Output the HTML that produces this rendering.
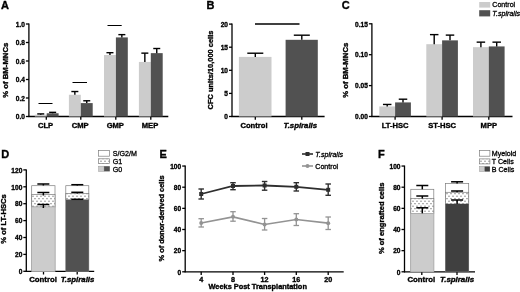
<!DOCTYPE html>
<html><head><meta charset="utf-8"><title>Figure</title>
<style>html,body{margin:0;padding:0;background:#fff}svg{display:block;opacity:.999;will-change:transform}text{font-family:"Liberation Sans",sans-serif}</style>
</head><body>
<svg width="520" height="292" viewBox="0 0 520 292">
<rect width="520" height="292" fill="#fff"/>
<text x="0.90" y="8.70" font-size="11" text-anchor="start" font-weight="bold" font-style="normal" fill="#000000" stroke="#000" stroke-width="0.35">A</text>
<line x1="28.90" y1="23.50" x2="28.90" y2="117.00" stroke="#000000" stroke-width="1.3"/>
<line x1="25.90" y1="116.50" x2="28.90" y2="116.50" stroke="#000000" stroke-width="1.3"/>
<text transform="translate(24.90 119.20) scale(0.88 1)" font-size="7.5" text-anchor="end" font-weight="bold" fill="#000" stroke="#000" stroke-width="0.35">0.0</text>
<line x1="25.90" y1="98.00" x2="28.90" y2="98.00" stroke="#000000" stroke-width="1.3"/>
<text transform="translate(24.90 100.70) scale(0.88 1)" font-size="7.5" text-anchor="end" font-weight="bold" fill="#000" stroke="#000" stroke-width="0.35">0.2</text>
<line x1="25.90" y1="79.50" x2="28.90" y2="79.50" stroke="#000000" stroke-width="1.3"/>
<text transform="translate(24.90 82.20) scale(0.88 1)" font-size="7.5" text-anchor="end" font-weight="bold" fill="#000" stroke="#000" stroke-width="0.35">0.4</text>
<line x1="25.90" y1="61.00" x2="28.90" y2="61.00" stroke="#000000" stroke-width="1.3"/>
<text transform="translate(24.90 63.70) scale(0.88 1)" font-size="7.5" text-anchor="end" font-weight="bold" fill="#000" stroke="#000" stroke-width="0.35">0.6</text>
<line x1="25.90" y1="42.50" x2="28.90" y2="42.50" stroke="#000000" stroke-width="1.3"/>
<text transform="translate(24.90 45.20) scale(0.88 1)" font-size="7.5" text-anchor="end" font-weight="bold" fill="#000" stroke="#000" stroke-width="0.35">0.8</text>
<line x1="25.90" y1="24.00" x2="28.90" y2="24.00" stroke="#000000" stroke-width="1.3"/>
<text transform="translate(24.90 26.70) scale(0.88 1)" font-size="7.5" text-anchor="end" font-weight="bold" fill="#000" stroke="#000" stroke-width="0.35">1.0</text>
<line x1="28.40" y1="116.50" x2="168.30" y2="116.50" stroke="#000000" stroke-width="1.3"/>
<line x1="46.30" y1="116.50" x2="46.30" y2="119.70" stroke="#000000" stroke-width="1.3"/>
<line x1="80.80" y1="116.50" x2="80.80" y2="119.70" stroke="#000000" stroke-width="1.3"/>
<line x1="115.80" y1="116.50" x2="115.80" y2="119.70" stroke="#000000" stroke-width="1.3"/>
<line x1="150.80" y1="116.50" x2="150.80" y2="119.70" stroke="#000000" stroke-width="1.3"/>
<rect x="34.80" y="114.65" width="11.90" height="1.85" fill="#cccccc"/>
<rect x="46.70" y="113.26" width="11.90" height="3.24" fill="#515151"/>
<line x1="40.75" y1="113.91" x2="40.75" y2="114.65" stroke="#000000" stroke-width="1.4"/>
<line x1="37.25" y1="113.91" x2="44.25" y2="113.91" stroke="#000000" stroke-width="1.4"/>
<line x1="52.65" y1="112.34" x2="52.65" y2="113.26" stroke="#000000" stroke-width="1.4"/>
<line x1="49.15" y1="112.34" x2="56.15" y2="112.34" stroke="#000000" stroke-width="1.4"/>
<text x="45.50" y="127.80" font-size="7.6" text-anchor="middle" font-weight="bold" font-style="normal" fill="#000000" stroke="#000" stroke-width="0.35">CLP</text>
<rect x="68.90" y="94.76" width="11.90" height="21.74" fill="#cccccc"/>
<rect x="80.80" y="103.09" width="11.90" height="13.41" fill="#515151"/>
<line x1="74.85" y1="91.53" x2="74.85" y2="94.76" stroke="#000000" stroke-width="1.4"/>
<line x1="71.35" y1="91.53" x2="78.35" y2="91.53" stroke="#000000" stroke-width="1.4"/>
<line x1="86.75" y1="100.78" x2="86.75" y2="103.09" stroke="#000000" stroke-width="1.4"/>
<line x1="83.25" y1="100.78" x2="90.25" y2="100.78" stroke="#000000" stroke-width="1.4"/>
<text x="80.20" y="127.80" font-size="7.6" text-anchor="middle" font-weight="bold" font-style="normal" fill="#000000" stroke="#000" stroke-width="0.35">CMP</text>
<rect x="104.00" y="54.99" width="11.90" height="61.51" fill="#cccccc"/>
<rect x="115.90" y="37.41" width="11.90" height="79.09" fill="#515151"/>
<line x1="109.95" y1="52.68" x2="109.95" y2="54.99" stroke="#000000" stroke-width="1.4"/>
<line x1="106.45" y1="52.68" x2="113.45" y2="52.68" stroke="#000000" stroke-width="1.4"/>
<line x1="121.85" y1="34.64" x2="121.85" y2="37.41" stroke="#000000" stroke-width="1.4"/>
<line x1="118.35" y1="34.64" x2="125.35" y2="34.64" stroke="#000000" stroke-width="1.4"/>
<text x="115.30" y="127.80" font-size="7.6" text-anchor="middle" font-weight="bold" font-style="normal" fill="#000000" stroke="#000" stroke-width="0.35">GMP</text>
<rect x="138.90" y="61.93" width="11.90" height="54.57" fill="#cccccc"/>
<rect x="150.80" y="53.14" width="11.90" height="63.36" fill="#515151"/>
<line x1="144.85" y1="53.14" x2="144.85" y2="61.93" stroke="#000000" stroke-width="1.4"/>
<line x1="141.35" y1="53.14" x2="148.35" y2="53.14" stroke="#000000" stroke-width="1.4"/>
<line x1="156.75" y1="48.51" x2="156.75" y2="53.14" stroke="#000000" stroke-width="1.4"/>
<line x1="153.25" y1="48.51" x2="160.25" y2="48.51" stroke="#000000" stroke-width="1.4"/>
<text x="150.00" y="127.80" font-size="7.6" text-anchor="middle" font-weight="bold" font-style="normal" fill="#000000" stroke="#000" stroke-width="0.35">MEP</text>
<line x1="38.50" y1="103.50" x2="52.50" y2="103.50" stroke="#000000" stroke-width="1"/>
<line x1="72.50" y1="82.50" x2="87.00" y2="82.50" stroke="#000000" stroke-width="1"/>
<line x1="107.50" y1="25.50" x2="121.70" y2="25.50" stroke="#000000" stroke-width="1"/>
<text x="7.70" y="70.20" font-size="7.8" text-anchor="middle" font-weight="bold" fill="#000000" stroke="#000" stroke-width="0.35" textLength="55" lengthAdjust="spacingAndGlyphs" transform="rotate(-90 7.70 70.20)">% of BM-MNCs</text>
<text x="206.40" y="8.70" font-size="11" text-anchor="start" font-weight="bold" font-style="normal" fill="#000000" stroke="#000" stroke-width="0.35">B</text>
<line x1="232.00" y1="23.60" x2="232.00" y2="117.00" stroke="#000000" stroke-width="1.3"/>
<line x1="229.00" y1="116.50" x2="232.00" y2="116.50" stroke="#000000" stroke-width="1.3"/>
<text transform="translate(228.00 119.20) scale(0.88 1)" font-size="7.5" text-anchor="end" font-weight="bold" fill="#000" stroke="#000" stroke-width="0.35">0</text>
<line x1="229.00" y1="93.40" x2="232.00" y2="93.40" stroke="#000000" stroke-width="1.3"/>
<text transform="translate(228.00 96.10) scale(0.88 1)" font-size="7.5" text-anchor="end" font-weight="bold" fill="#000" stroke="#000" stroke-width="0.35">5</text>
<line x1="229.00" y1="70.30" x2="232.00" y2="70.30" stroke="#000000" stroke-width="1.3"/>
<text transform="translate(228.00 73.00) scale(0.88 1)" font-size="7.5" text-anchor="end" font-weight="bold" fill="#000" stroke="#000" stroke-width="0.35">10</text>
<line x1="229.00" y1="47.20" x2="232.00" y2="47.20" stroke="#000000" stroke-width="1.3"/>
<text transform="translate(228.00 49.90) scale(0.88 1)" font-size="7.5" text-anchor="end" font-weight="bold" fill="#000" stroke="#000" stroke-width="0.35">15</text>
<line x1="229.00" y1="24.10" x2="232.00" y2="24.10" stroke="#000000" stroke-width="1.3"/>
<text transform="translate(228.00 26.80) scale(0.88 1)" font-size="7.5" text-anchor="end" font-weight="bold" fill="#000" stroke="#000" stroke-width="0.35">20</text>
<line x1="231.50" y1="116.50" x2="324.60" y2="116.50" stroke="#000000" stroke-width="1.3"/>
<line x1="255.30" y1="116.50" x2="255.30" y2="119.70" stroke="#000000" stroke-width="1.3"/>
<line x1="301.80" y1="116.50" x2="301.80" y2="119.70" stroke="#000000" stroke-width="1.3"/>
<rect x="238.90" y="56.90" width="32.60" height="59.60" fill="#cccccc"/>
<line x1="255.30" y1="53.21" x2="255.30" y2="56.90" stroke="#000000" stroke-width="1.4"/>
<line x1="247.30" y1="53.21" x2="263.30" y2="53.21" stroke="#000000" stroke-width="1.4"/>
<rect x="285.60" y="39.81" width="32.20" height="76.69" fill="#515151"/>
<line x1="301.80" y1="35.19" x2="301.80" y2="39.81" stroke="#000000" stroke-width="1.4"/>
<line x1="293.80" y1="35.19" x2="309.80" y2="35.19" stroke="#000000" stroke-width="1.4"/>
<line x1="255.00" y1="24.00" x2="299.50" y2="24.00" stroke="#000000" stroke-width="1.3"/>
<text x="254.00" y="127.80" font-size="7.6" text-anchor="middle" font-weight="bold" font-style="normal" fill="#000000" stroke="#000" stroke-width="0.35">Control</text>
<text x="300.30" y="127.80" font-size="7.8" text-anchor="middle" font-weight="bold" font-style="italic" fill="#000000" stroke="#000" stroke-width="0.35">T.spiralis</text>
<text x="212.70" y="70.00" font-size="7.8" text-anchor="middle" font-weight="bold" fill="#000000" stroke="#000" stroke-width="0.35" textLength="78.8" lengthAdjust="spacingAndGlyphs" transform="rotate(-90 212.70 70.00)">CFC units/10,000 cells</text>
<text x="341.80" y="8.70" font-size="11" text-anchor="start" font-weight="bold" font-style="normal" fill="#000000" stroke="#000" stroke-width="0.35">C</text>
<line x1="371.90" y1="23.30" x2="371.90" y2="117.00" stroke="#000000" stroke-width="1.3"/>
<line x1="368.90" y1="116.50" x2="371.90" y2="116.50" stroke="#000000" stroke-width="1.3"/>
<text transform="translate(367.90 119.20) scale(0.88 1)" font-size="7.5" text-anchor="end" font-weight="bold" fill="#000" stroke="#000" stroke-width="0.35">0.00</text>
<line x1="368.90" y1="85.60" x2="371.90" y2="85.60" stroke="#000000" stroke-width="1.3"/>
<text transform="translate(367.90 88.30) scale(0.88 1)" font-size="7.5" text-anchor="end" font-weight="bold" fill="#000" stroke="#000" stroke-width="0.35">0.05</text>
<line x1="368.90" y1="54.70" x2="371.90" y2="54.70" stroke="#000000" stroke-width="1.3"/>
<text transform="translate(367.90 57.40) scale(0.88 1)" font-size="7.5" text-anchor="end" font-weight="bold" fill="#000" stroke="#000" stroke-width="0.35">0.10</text>
<line x1="368.90" y1="23.80" x2="371.90" y2="23.80" stroke="#000000" stroke-width="1.3"/>
<text transform="translate(367.90 26.50) scale(0.88 1)" font-size="7.5" text-anchor="end" font-weight="bold" fill="#000" stroke="#000" stroke-width="0.35">0.15</text>
<line x1="371.40" y1="116.50" x2="512.50" y2="116.50" stroke="#000000" stroke-width="1.3"/>
<line x1="395.10" y1="116.50" x2="395.10" y2="119.70" stroke="#000000" stroke-width="1.3"/>
<line x1="442.10" y1="116.50" x2="442.10" y2="119.70" stroke="#000000" stroke-width="1.3"/>
<line x1="488.80" y1="116.50" x2="488.80" y2="119.70" stroke="#000000" stroke-width="1.3"/>
<rect x="379.30" y="106.43" width="15.80" height="10.07" fill="#cccccc"/>
<rect x="395.10" y="102.41" width="15.80" height="14.09" fill="#515151"/>
<line x1="387.20" y1="104.45" x2="387.20" y2="106.43" stroke="#000000" stroke-width="1.4"/>
<line x1="382.95" y1="104.45" x2="391.45" y2="104.45" stroke="#000000" stroke-width="1.4"/>
<line x1="403.00" y1="99.20" x2="403.00" y2="102.41" stroke="#000000" stroke-width="1.4"/>
<line x1="398.75" y1="99.20" x2="407.25" y2="99.20" stroke="#000000" stroke-width="1.4"/>
<text x="395.10" y="128.20" font-size="7.6" text-anchor="middle" font-weight="bold" font-style="normal" fill="#000000" stroke="#000" stroke-width="0.35">LT-HSC</text>
<rect x="426.30" y="44.19" width="15.80" height="72.31" fill="#cccccc"/>
<rect x="442.10" y="40.36" width="15.80" height="76.14" fill="#515151"/>
<line x1="434.20" y1="34.62" x2="434.20" y2="44.19" stroke="#000000" stroke-width="1.4"/>
<line x1="429.95" y1="34.62" x2="438.45" y2="34.62" stroke="#000000" stroke-width="1.4"/>
<line x1="450.00" y1="35.11" x2="450.00" y2="40.36" stroke="#000000" stroke-width="1.4"/>
<line x1="445.75" y1="35.11" x2="454.25" y2="35.11" stroke="#000000" stroke-width="1.4"/>
<text x="442.10" y="128.20" font-size="7.6" text-anchor="middle" font-weight="bold" font-style="normal" fill="#000000" stroke="#000" stroke-width="0.35">ST-HSC</text>
<rect x="473.00" y="47.16" width="15.80" height="69.34" fill="#cccccc"/>
<rect x="488.80" y="46.42" width="15.80" height="70.08" fill="#515151"/>
<line x1="480.90" y1="42.15" x2="480.90" y2="47.16" stroke="#000000" stroke-width="1.4"/>
<line x1="476.65" y1="42.15" x2="485.15" y2="42.15" stroke="#000000" stroke-width="1.4"/>
<line x1="496.70" y1="42.15" x2="496.70" y2="46.42" stroke="#000000" stroke-width="1.4"/>
<line x1="492.45" y1="42.15" x2="500.95" y2="42.15" stroke="#000000" stroke-width="1.4"/>
<text x="488.80" y="128.20" font-size="7.6" text-anchor="middle" font-weight="bold" font-style="normal" fill="#000000" stroke="#000" stroke-width="0.35">MPP</text>
<text x="348.50" y="70.20" font-size="7.8" text-anchor="middle" font-weight="bold" fill="#000000" stroke="#000" stroke-width="0.35" textLength="55" lengthAdjust="spacingAndGlyphs" transform="rotate(-90 348.50 70.20)">% of BM-MNCs</text>
<rect x="479.20" y="2.00" width="11.00" height="5.60" fill="#cccccc"/>
<rect x="479.20" y="10.20" width="11.00" height="6.20" fill="#515151"/>
<text x="492.30" y="7.30" font-size="7.1" text-anchor="start" font-weight="normal" font-style="normal" fill="#000000" stroke="#000" stroke-width="0.3">Control</text>
<text x="492.30" y="15.50" font-size="7.1" text-anchor="start" font-weight="normal" font-style="italic" fill="#000000" stroke="#000" stroke-width="0.3">T.spiralis</text>
<text x="1.20" y="158.30" font-size="11" text-anchor="start" font-weight="bold" font-style="normal" fill="#000000" stroke="#000" stroke-width="0.35">D</text>
<line x1="26.30" y1="169.40" x2="26.30" y2="271.80" stroke="#000000" stroke-width="1.3"/>
<line x1="23.30" y1="271.30" x2="26.30" y2="271.30" stroke="#000000" stroke-width="1.3"/>
<text transform="translate(22.30 274.00) scale(0.88 1)" font-size="7.5" text-anchor="end" font-weight="bold" fill="#000" stroke="#000" stroke-width="0.35">0</text>
<line x1="23.30" y1="254.40" x2="26.30" y2="254.40" stroke="#000000" stroke-width="1.3"/>
<text transform="translate(22.30 257.10) scale(0.88 1)" font-size="7.5" text-anchor="end" font-weight="bold" fill="#000" stroke="#000" stroke-width="0.35">20</text>
<line x1="23.30" y1="237.50" x2="26.30" y2="237.50" stroke="#000000" stroke-width="1.3"/>
<text transform="translate(22.30 240.20) scale(0.88 1)" font-size="7.5" text-anchor="end" font-weight="bold" fill="#000" stroke="#000" stroke-width="0.35">40</text>
<line x1="23.30" y1="220.60" x2="26.30" y2="220.60" stroke="#000000" stroke-width="1.3"/>
<text transform="translate(22.30 223.30) scale(0.88 1)" font-size="7.5" text-anchor="end" font-weight="bold" fill="#000" stroke="#000" stroke-width="0.35">60</text>
<line x1="23.30" y1="203.70" x2="26.30" y2="203.70" stroke="#000000" stroke-width="1.3"/>
<text transform="translate(22.30 206.40) scale(0.88 1)" font-size="7.5" text-anchor="end" font-weight="bold" fill="#000" stroke="#000" stroke-width="0.35">80</text>
<line x1="23.30" y1="186.80" x2="26.30" y2="186.80" stroke="#000000" stroke-width="1.3"/>
<text transform="translate(22.30 189.50) scale(0.88 1)" font-size="7.5" text-anchor="end" font-weight="bold" fill="#000" stroke="#000" stroke-width="0.35">100</text>
<line x1="23.30" y1="169.90" x2="26.30" y2="169.90" stroke="#000000" stroke-width="1.3"/>
<text transform="translate(22.30 172.60) scale(0.88 1)" font-size="7.5" text-anchor="end" font-weight="bold" fill="#000" stroke="#000" stroke-width="0.35">120</text>
<line x1="25.80" y1="271.30" x2="94.20" y2="271.30" stroke="#000000" stroke-width="1.3"/>
<line x1="43.50" y1="271.30" x2="43.50" y2="274.50" stroke="#000000" stroke-width="1.3"/>
<line x1="77.20" y1="271.30" x2="77.20" y2="274.50" stroke="#000000" stroke-width="1.3"/>
<defs><pattern id="dots" width="4" height="5" patternUnits="userSpaceOnUse"><rect width="4" height="5" fill="#fff"/><circle cx="1" cy="1.2" r="0.6" fill="#555"/><circle cx="3" cy="3.7" r="0.6" fill="#555"/></pattern></defs>
<rect x="31.70" y="185.70" width="23.30" height="85.60" fill="#fff" stroke="#7c7c7c" stroke-width="0.7"/>
<rect x="31.70" y="194.40" width="23.30" height="12.60" fill="url(#dots)" stroke="#7c7c7c" stroke-width="0.7"/>
<rect x="31.70" y="207.00" width="23.30" height="64.30" fill="#cccccc" stroke="#aaaaaa" stroke-width="0.6"/>
<line x1="43.35" y1="184.00" x2="43.35" y2="185.50" stroke="#000000" stroke-width="1.5"/>
<line x1="37.35" y1="184.00" x2="49.35" y2="184.00" stroke="#000000" stroke-width="1.5"/>
<line x1="43.35" y1="192.50" x2="43.35" y2="195.50" stroke="#000000" stroke-width="1.5"/>
<line x1="37.35" y1="192.50" x2="49.35" y2="192.50" stroke="#000000" stroke-width="1.5"/>
<line x1="43.35" y1="204.50" x2="43.35" y2="208.00" stroke="#000000" stroke-width="1.5"/>
<line x1="37.35" y1="204.50" x2="49.35" y2="204.50" stroke="#000000" stroke-width="1.5"/>
<rect x="65.80" y="185.70" width="23.00" height="85.60" fill="#fff" stroke="#7c7c7c" stroke-width="0.7"/>
<rect x="65.80" y="193.50" width="23.00" height="6.30" fill="url(#dots)" stroke="#7c7c7c" stroke-width="0.7"/>
<rect x="65.80" y="199.80" width="23.00" height="71.50" fill="#515151"/>
<line x1="77.30" y1="184.70" x2="77.30" y2="185.50" stroke="#000000" stroke-width="1.5"/>
<line x1="71.30" y1="184.70" x2="83.30" y2="184.70" stroke="#000000" stroke-width="1.5"/>
<line x1="77.30" y1="192.30" x2="77.30" y2="193.50" stroke="#000000" stroke-width="1.5"/>
<line x1="71.30" y1="192.30" x2="83.30" y2="192.30" stroke="#000000" stroke-width="1.5"/>
<line x1="77.30" y1="199.30" x2="77.30" y2="199.80" stroke="#000000" stroke-width="1.5"/>
<line x1="71.30" y1="199.30" x2="83.30" y2="199.30" stroke="#000000" stroke-width="1.5"/>
<text x="43.00" y="282.40" font-size="7.8" text-anchor="middle" font-weight="bold" font-style="normal" fill="#000000" stroke="#000" stroke-width="0.35">Control</text>
<text x="77.50" y="282.40" font-size="7.8" text-anchor="middle" font-weight="bold" font-style="italic" fill="#000000" stroke="#000" stroke-width="0.35">T.spiralis</text>
<text x="5.80" y="219.00" font-size="7.8" text-anchor="middle" font-weight="bold" fill="#000000" stroke="#000" stroke-width="0.35" textLength="49.6" lengthAdjust="spacingAndGlyphs" transform="rotate(-90 5.80 219.00)">% of LT-HSCs</text>
<rect x="98.60" y="150.50" width="11.00" height="5.70" fill="#fff" stroke="#7c7c7c" stroke-width="0.7"/>
<rect x="98.60" y="158.80" width="11.00" height="4.80" fill="url(#dots)" stroke="#7c7c7c" stroke-width="0.7"/>
<rect x="98.60" y="166.20" width="5.50" height="5.20" fill="#cccccc" stroke="#999" stroke-width="0.5"/>
<rect x="104.10" y="166.20" width="5.70" height="5.20" fill="#515151"/>
<text x="112.80" y="156.10" font-size="7.1" text-anchor="start" font-weight="normal" font-style="normal" fill="#000000" stroke="#000" stroke-width="0.3">S/G2/M</text>
<text x="112.80" y="163.80" font-size="7.1" text-anchor="start" font-weight="normal" font-style="normal" fill="#000000" stroke="#000" stroke-width="0.3">G1</text>
<text x="112.80" y="171.50" font-size="7.1" text-anchor="start" font-weight="normal" font-style="normal" fill="#000000" stroke="#000" stroke-width="0.3">G0</text>
<text x="159.40" y="158.30" font-size="11" text-anchor="start" font-weight="bold" font-style="normal" fill="#000000" stroke="#000" stroke-width="0.35">E</text>
<line x1="185.20" y1="165.55" x2="185.20" y2="272.30" stroke="#000000" stroke-width="1.3"/>
<line x1="182.20" y1="271.80" x2="185.20" y2="271.80" stroke="#000000" stroke-width="1.3"/>
<text transform="translate(181.20 274.50) scale(0.88 1)" font-size="7.5" text-anchor="end" font-weight="bold" fill="#000" stroke="#000" stroke-width="0.35">0</text>
<line x1="182.20" y1="250.65" x2="185.20" y2="250.65" stroke="#000000" stroke-width="1.3"/>
<text transform="translate(181.20 253.35) scale(0.88 1)" font-size="7.5" text-anchor="end" font-weight="bold" fill="#000" stroke="#000" stroke-width="0.35">20</text>
<line x1="182.20" y1="229.50" x2="185.20" y2="229.50" stroke="#000000" stroke-width="1.3"/>
<text transform="translate(181.20 232.20) scale(0.88 1)" font-size="7.5" text-anchor="end" font-weight="bold" fill="#000" stroke="#000" stroke-width="0.35">40</text>
<line x1="182.20" y1="208.35" x2="185.20" y2="208.35" stroke="#000000" stroke-width="1.3"/>
<text transform="translate(181.20 211.05) scale(0.88 1)" font-size="7.5" text-anchor="end" font-weight="bold" fill="#000" stroke="#000" stroke-width="0.35">60</text>
<line x1="182.20" y1="187.20" x2="185.20" y2="187.20" stroke="#000000" stroke-width="1.3"/>
<text transform="translate(181.20 189.90) scale(0.88 1)" font-size="7.5" text-anchor="end" font-weight="bold" fill="#000" stroke="#000" stroke-width="0.35">80</text>
<line x1="182.20" y1="166.05" x2="185.20" y2="166.05" stroke="#000000" stroke-width="1.3"/>
<text transform="translate(181.20 168.75) scale(0.88 1)" font-size="7.5" text-anchor="end" font-weight="bold" fill="#000" stroke="#000" stroke-width="0.35">100</text>
<line x1="184.70" y1="271.80" x2="343.70" y2="271.80" stroke="#000000" stroke-width="1.3"/>
<line x1="201.20" y1="271.80" x2="201.20" y2="275.00" stroke="#000000" stroke-width="1.3"/>
<line x1="233.00" y1="271.80" x2="233.00" y2="275.00" stroke="#000000" stroke-width="1.3"/>
<line x1="264.60" y1="271.80" x2="264.60" y2="275.00" stroke="#000000" stroke-width="1.3"/>
<line x1="296.30" y1="271.80" x2="296.30" y2="275.00" stroke="#000000" stroke-width="1.3"/>
<line x1="328.20" y1="271.80" x2="328.20" y2="275.00" stroke="#000000" stroke-width="1.3"/>
<polyline fill="none" stroke="#939393" stroke-width="1.7" points="201.2,223 233,216.8 264.6,224.5 296.3,219.5 328.2,223.2"/>
<line x1="201.20" y1="218.70" x2="201.20" y2="227.00" stroke="#939393" stroke-width="1.3"/>
<line x1="198.45" y1="218.70" x2="203.95" y2="218.70" stroke="#939393" stroke-width="1.3"/>
<line x1="198.45" y1="227.00" x2="203.95" y2="227.00" stroke="#939393" stroke-width="1.3"/>
<circle cx="201.2" cy="223" r="2" fill="#939393"/>
<line x1="233.00" y1="211.70" x2="233.00" y2="221.20" stroke="#939393" stroke-width="1.3"/>
<line x1="230.25" y1="211.70" x2="235.75" y2="211.70" stroke="#939393" stroke-width="1.3"/>
<line x1="230.25" y1="221.20" x2="235.75" y2="221.20" stroke="#939393" stroke-width="1.3"/>
<circle cx="233" cy="216.8" r="2" fill="#939393"/>
<line x1="264.60" y1="218.50" x2="264.60" y2="230.00" stroke="#939393" stroke-width="1.3"/>
<line x1="261.85" y1="218.50" x2="267.35" y2="218.50" stroke="#939393" stroke-width="1.3"/>
<line x1="261.85" y1="230.00" x2="267.35" y2="230.00" stroke="#939393" stroke-width="1.3"/>
<circle cx="264.6" cy="224.5" r="2" fill="#939393"/>
<line x1="296.30" y1="213.70" x2="296.30" y2="225.50" stroke="#939393" stroke-width="1.3"/>
<line x1="293.55" y1="213.70" x2="299.05" y2="213.70" stroke="#939393" stroke-width="1.3"/>
<line x1="293.55" y1="225.50" x2="299.05" y2="225.50" stroke="#939393" stroke-width="1.3"/>
<circle cx="296.3" cy="219.5" r="2" fill="#939393"/>
<line x1="328.20" y1="217.00" x2="328.20" y2="229.50" stroke="#939393" stroke-width="1.3"/>
<line x1="325.45" y1="217.00" x2="330.95" y2="217.00" stroke="#939393" stroke-width="1.3"/>
<line x1="325.45" y1="229.50" x2="330.95" y2="229.50" stroke="#939393" stroke-width="1.3"/>
<circle cx="328.2" cy="223.2" r="2" fill="#939393"/>
<polyline fill="none" stroke="#2e2e2e" stroke-width="1.8" points="201.2,194 233,186 264.6,185.5 296.3,186.8 328.2,189.8"/>
<line x1="201.20" y1="189.00" x2="201.20" y2="199.00" stroke="#2e2e2e" stroke-width="1.4"/>
<line x1="198.45" y1="189.00" x2="203.95" y2="189.00" stroke="#2e2e2e" stroke-width="1.4"/>
<line x1="198.45" y1="199.00" x2="203.95" y2="199.00" stroke="#2e2e2e" stroke-width="1.4"/>
<rect x="199.20" y="192.00" width="4.00" height="4.00" fill="#2e2e2e"/>
<line x1="233.00" y1="182.70" x2="233.00" y2="189.70" stroke="#2e2e2e" stroke-width="1.4"/>
<line x1="230.25" y1="182.70" x2="235.75" y2="182.70" stroke="#2e2e2e" stroke-width="1.4"/>
<line x1="230.25" y1="189.70" x2="235.75" y2="189.70" stroke="#2e2e2e" stroke-width="1.4"/>
<rect x="231.00" y="184.00" width="4.00" height="4.00" fill="#2e2e2e"/>
<line x1="264.60" y1="181.50" x2="264.60" y2="190.20" stroke="#2e2e2e" stroke-width="1.4"/>
<line x1="261.85" y1="181.50" x2="267.35" y2="181.50" stroke="#2e2e2e" stroke-width="1.4"/>
<line x1="261.85" y1="190.20" x2="267.35" y2="190.20" stroke="#2e2e2e" stroke-width="1.4"/>
<rect x="262.60" y="183.50" width="4.00" height="4.00" fill="#2e2e2e"/>
<line x1="296.30" y1="182.70" x2="296.30" y2="191.00" stroke="#2e2e2e" stroke-width="1.4"/>
<line x1="293.55" y1="182.70" x2="299.05" y2="182.70" stroke="#2e2e2e" stroke-width="1.4"/>
<line x1="293.55" y1="191.00" x2="299.05" y2="191.00" stroke="#2e2e2e" stroke-width="1.4"/>
<rect x="294.30" y="184.80" width="4.00" height="4.00" fill="#2e2e2e"/>
<line x1="328.20" y1="184.00" x2="328.20" y2="195.30" stroke="#2e2e2e" stroke-width="1.4"/>
<line x1="325.45" y1="184.00" x2="330.95" y2="184.00" stroke="#2e2e2e" stroke-width="1.4"/>
<line x1="325.45" y1="195.30" x2="330.95" y2="195.30" stroke="#2e2e2e" stroke-width="1.4"/>
<rect x="326.20" y="187.80" width="4.00" height="4.00" fill="#2e2e2e"/>
<text x="201.20" y="281.80" font-size="7.2" text-anchor="middle" font-weight="bold" font-style="normal" fill="#000000" stroke="#000" stroke-width="0.35">4</text>
<text x="233.00" y="281.80" font-size="7.2" text-anchor="middle" font-weight="bold" font-style="normal" fill="#000000" stroke="#000" stroke-width="0.35">8</text>
<text x="264.60" y="281.80" font-size="7.2" text-anchor="middle" font-weight="bold" font-style="normal" fill="#000000" stroke="#000" stroke-width="0.35">12</text>
<text x="296.30" y="281.80" font-size="7.2" text-anchor="middle" font-weight="bold" font-style="normal" fill="#000000" stroke="#000" stroke-width="0.35">16</text>
<text x="328.20" y="281.80" font-size="7.2" text-anchor="middle" font-weight="bold" font-style="normal" fill="#000000" stroke="#000" stroke-width="0.35">20</text>
<text x="257.70" y="288.60" font-size="7.4" text-anchor="middle" font-weight="bold" font-style="normal" fill="#000000" stroke="#000" stroke-width="0.35">Weeks Post Transplantation</text>
<text x="163.70" y="218.40" font-size="7.8" text-anchor="middle" font-weight="bold" fill="#000000" stroke="#000" stroke-width="0.35" textLength="86" lengthAdjust="spacingAndGlyphs" transform="rotate(-90 163.70 218.40)">% of donor-derived cells</text>
<line x1="302.00" y1="154.00" x2="313.00" y2="154.00" stroke="#2e2e2e" stroke-width="1.6"/>
<rect x="305.50" y="152.00" width="4.00" height="4.00" fill="#2e2e2e"/>
<text x="315.30" y="156.60" font-size="7.1" text-anchor="start" font-weight="normal" font-style="italic" fill="#000000" stroke="#000" stroke-width="0.3">T.spiralis</text>
<line x1="302.00" y1="166.00" x2="313.00" y2="166.00" stroke="#939393" stroke-width="1.6"/>
<circle cx="307.5" cy="166" r="2" fill="#939393"/>
<text x="315.30" y="168.60" font-size="7.1" text-anchor="start" font-weight="normal" font-style="normal" fill="#000000" stroke="#000" stroke-width="0.3">Control</text>
<text x="378.10" y="158.40" font-size="11" text-anchor="start" font-weight="bold" font-style="normal" fill="#000000" stroke="#000" stroke-width="0.35">F</text>
<line x1="404.50" y1="165.55" x2="404.50" y2="272.30" stroke="#000000" stroke-width="1.3"/>
<line x1="401.50" y1="271.80" x2="404.50" y2="271.80" stroke="#000000" stroke-width="1.3"/>
<text transform="translate(400.50 274.50) scale(0.88 1)" font-size="7.5" text-anchor="end" font-weight="bold" fill="#000" stroke="#000" stroke-width="0.35">0</text>
<line x1="401.50" y1="250.65" x2="404.50" y2="250.65" stroke="#000000" stroke-width="1.3"/>
<text transform="translate(400.50 253.35) scale(0.88 1)" font-size="7.5" text-anchor="end" font-weight="bold" fill="#000" stroke="#000" stroke-width="0.35">20</text>
<line x1="401.50" y1="229.50" x2="404.50" y2="229.50" stroke="#000000" stroke-width="1.3"/>
<text transform="translate(400.50 232.20) scale(0.88 1)" font-size="7.5" text-anchor="end" font-weight="bold" fill="#000" stroke="#000" stroke-width="0.35">40</text>
<line x1="401.50" y1="208.35" x2="404.50" y2="208.35" stroke="#000000" stroke-width="1.3"/>
<text transform="translate(400.50 211.05) scale(0.88 1)" font-size="7.5" text-anchor="end" font-weight="bold" fill="#000" stroke="#000" stroke-width="0.35">60</text>
<line x1="401.50" y1="187.20" x2="404.50" y2="187.20" stroke="#000000" stroke-width="1.3"/>
<text transform="translate(400.50 189.90) scale(0.88 1)" font-size="7.5" text-anchor="end" font-weight="bold" fill="#000" stroke="#000" stroke-width="0.35">80</text>
<line x1="401.50" y1="166.05" x2="404.50" y2="166.05" stroke="#000000" stroke-width="1.3"/>
<text transform="translate(400.50 168.75) scale(0.88 1)" font-size="7.5" text-anchor="end" font-weight="bold" fill="#000" stroke="#000" stroke-width="0.35">100</text>
<line x1="404.00" y1="271.80" x2="475.00" y2="271.80" stroke="#000000" stroke-width="1.3"/>
<line x1="421.80" y1="271.80" x2="421.80" y2="275.00" stroke="#000000" stroke-width="1.3"/>
<line x1="457.00" y1="271.80" x2="457.00" y2="275.00" stroke="#000000" stroke-width="1.3"/>
<rect x="410.80" y="189.30" width="23.00" height="82.50" fill="#fff" stroke="#7c7c7c" stroke-width="0.7"/>
<rect x="410.80" y="198.50" width="23.00" height="15.00" fill="url(#dots)" stroke="#7c7c7c" stroke-width="0.7"/>
<rect x="410.80" y="213.50" width="23.00" height="58.30" fill="#cccccc" stroke="#aaaaaa" stroke-width="0.6"/>
<line x1="422.30" y1="185.50" x2="422.30" y2="189.30" stroke="#000000" stroke-width="1.5"/>
<line x1="416.30" y1="185.50" x2="428.30" y2="185.50" stroke="#000000" stroke-width="1.5"/>
<line x1="422.30" y1="196.00" x2="422.30" y2="198.50" stroke="#000000" stroke-width="1.5"/>
<line x1="416.30" y1="196.00" x2="428.30" y2="196.00" stroke="#000000" stroke-width="1.5"/>
<line x1="422.30" y1="207.80" x2="422.30" y2="213.30" stroke="#000000" stroke-width="1.5"/>
<line x1="416.30" y1="207.80" x2="428.30" y2="207.80" stroke="#000000" stroke-width="1.5"/>
<rect x="445.50" y="183.50" width="23.20" height="88.30" fill="#fff" stroke="#7c7c7c" stroke-width="0.7"/>
<rect x="445.50" y="192.30" width="23.20" height="11.70" fill="url(#dots)" stroke="#7c7c7c" stroke-width="0.7"/>
<rect x="445.50" y="204.00" width="23.20" height="67.80" fill="#404040"/>
<line x1="457.10" y1="181.80" x2="457.10" y2="183.50" stroke="#000000" stroke-width="1.5"/>
<line x1="451.10" y1="181.80" x2="463.10" y2="181.80" stroke="#000000" stroke-width="1.5"/>
<line x1="457.10" y1="191.00" x2="457.10" y2="192.30" stroke="#000000" stroke-width="1.5"/>
<line x1="451.10" y1="191.00" x2="463.10" y2="191.00" stroke="#000000" stroke-width="1.5"/>
<line x1="457.10" y1="200.00" x2="457.10" y2="204.00" stroke="#000000" stroke-width="1.5"/>
<line x1="451.10" y1="200.00" x2="463.10" y2="200.00" stroke="#000000" stroke-width="1.5"/>
<text x="421.30" y="282.30" font-size="7.8" text-anchor="middle" font-weight="bold" font-style="normal" fill="#000000" stroke="#000" stroke-width="0.35">Control</text>
<text x="457.00" y="282.30" font-size="7.9" text-anchor="middle" font-weight="bold" font-style="italic" fill="#000000" stroke="#000" stroke-width="0.35">T.spiralis</text>
<text x="384.20" y="218.30" font-size="7.8" text-anchor="middle" font-weight="bold" fill="#000000" stroke="#000" stroke-width="0.35" textLength="71.6" lengthAdjust="spacingAndGlyphs" transform="rotate(-90 384.20 218.30)">% of engrafted cells</text>
<rect x="479.50" y="150.60" width="10.40" height="5.60" fill="#fff" stroke="#7c7c7c" stroke-width="0.7"/>
<rect x="479.50" y="158.90" width="10.40" height="5.00" fill="url(#dots)" stroke="#7c7c7c" stroke-width="0.7"/>
<rect x="479.50" y="166.40" width="5.20" height="5.20" fill="#cccccc" stroke="#999" stroke-width="0.5"/>
<rect x="484.70" y="166.40" width="5.20" height="5.20" fill="#404040"/>
<text x="491.80" y="156.10" font-size="7.1" text-anchor="start" font-weight="normal" font-style="normal" fill="#000000" stroke="#000" stroke-width="0.3">Myeloid</text>
<text x="491.80" y="163.80" font-size="7.1" text-anchor="start" font-weight="normal" font-style="normal" fill="#000000" stroke="#000" stroke-width="0.3">T Cells</text>
<text x="491.80" y="171.50" font-size="7.1" text-anchor="start" font-weight="normal" font-style="normal" fill="#000000" stroke="#000" stroke-width="0.3">B Cells</text>
</svg>
</body></html>
